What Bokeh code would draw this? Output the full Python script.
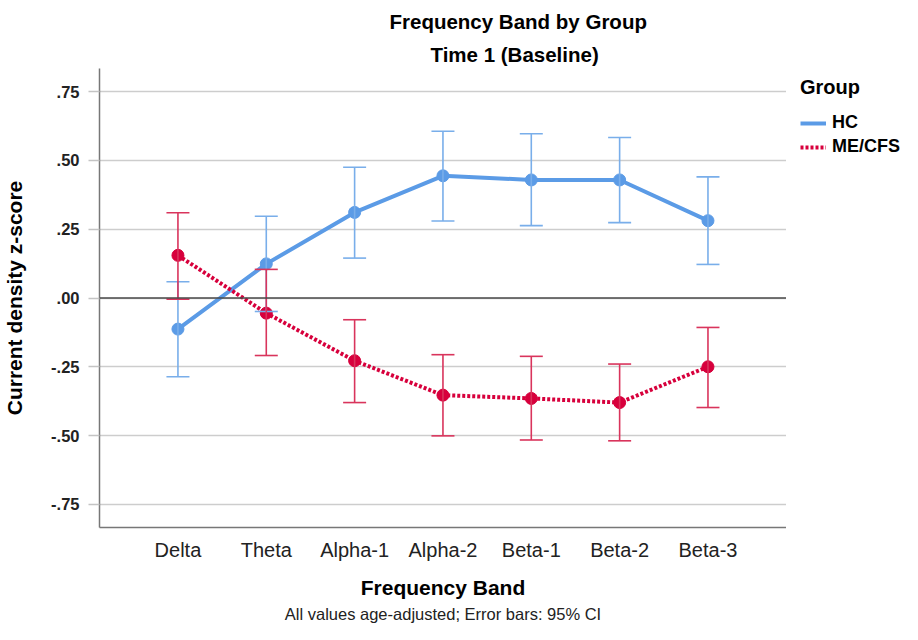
from bokeh.plotting import figure
from bokeh.layouts import row
from bokeh.models import (ColumnDataSource, FixedTicker, Whisker, TeeHead, Title,
                          Legend, LegendItem, Span, Range1d)
from bokeh.embed import file_html
from bokeh.resources import INLINE

# ---- data ----
bands = ["Delta", "Theta", "Alpha-1", "Alpha-2", "Beta-1", "Beta-2", "Beta-3"]
hc_mean = [-0.113, 0.124, 0.311, 0.444, 0.429, 0.429, 0.281]
hc_lower = [-0.286, -0.049, 0.145, 0.280, 0.263, 0.274, 0.122]
hc_upper = [0.059, 0.297, 0.475, 0.606, 0.597, 0.583, 0.440]
me_mean = [0.155, -0.055, -0.228, -0.353, -0.365, -0.380, -0.250]
me_lower = [-0.004, -0.209, -0.380, -0.501, -0.516, -0.519, -0.398]
me_upper = [0.310, 0.104, -0.079, -0.206, -0.212, -0.240, -0.107]
y_ticks = [-0.75, -0.5, -0.25, 0.0, 0.25, 0.5, 0.75]
y_tick_labels = ["-.75", "-.50", "-.25", ".00", ".25", ".50", ".75"]
series_names = ["HC", "ME/CFS"]

FONT = "Liberation Sans"
HC_COL = "#5b9be6"
HC_ERR = "#79aeea"
ME_COL = "#d7003c"
ME_ERR = "#d9345c"

xs = list(range(len(bands)))
hc_src = ColumnDataSource(dict(x=xs, y=hc_mean, lo=hc_lower, hi=hc_upper))
me_src = ColumnDataSource(dict(x=xs, y=me_mean, lo=me_lower, hi=me_upper))

p = figure(width=786, height=624, output_backend="svg", toolbar_location=None,
           x_range=(-0.888, 6.889), y_range=(-0.834, 0.834),
           min_border_left=99, min_border_right=0, min_border_top=68,
           min_border_bottom=97)
p.outline_line_color = None
p.background_fill_color = "white"
p.border_fill_color = "white"

# axes
p.xaxis.ticker = FixedTicker(ticks=xs)
p.xaxis.major_label_overrides = {i: b for i, b in enumerate(bands)}
p.xaxis.major_tick_line_color = None
p.xaxis.minor_tick_line_color = None
p.xaxis.major_label_text_font = FONT
p.xaxis.major_label_text_font_size = "20px"
p.xaxis.major_label_text_color = "#222222"
p.xaxis.major_label_standoff = 5
p.xaxis.axis_label = "Frequency Band"
p.xaxis.axis_label_text_font = FONT
p.xaxis.axis_label_text_font_size = "21px"
p.xaxis.axis_label_text_font_style = "bold"
p.xaxis.axis_label_text_color = "black"
p.xaxis.axis_label_standoff = 12
p.xaxis.axis_line_color = "#777777"
p.xaxis.axis_line_width = 1.5

p.yaxis.ticker = FixedTicker(ticks=y_ticks)
p.yaxis.major_label_overrides = {t: l for t, l in zip(y_ticks, y_tick_labels)}
p.yaxis.major_tick_out = 11
p.yaxis.major_tick_in = 0
p.yaxis.major_tick_line_color = "#c4c4c4"
p.yaxis.major_tick_line_width = 1.5
p.yaxis.minor_tick_line_color = None
p.yaxis.major_label_text_font = FONT
p.yaxis.major_label_text_font_size = "16.5px"
p.yaxis.major_label_text_font_style = "bold"
p.yaxis.major_label_text_color = "#222222"
p.yaxis.major_label_standoff = 9
p.yaxis.axis_label = "Current density z-score"
p.yaxis.axis_label_text_font = FONT
p.yaxis.axis_label_text_font_size = "21px"
p.yaxis.axis_label_text_font_style = "bold"
p.yaxis.axis_label_text_color = "black"
p.yaxis.axis_label_standoff = 22
p.yaxis.axis_line_color = "#777777"
p.yaxis.axis_line_width = 1.5

p.xgrid.grid_line_color = None
p.ygrid.ticker = FixedTicker(ticks=y_ticks)
p.ygrid.grid_line_color = "#cdcdcd"
p.ygrid.grid_line_width = 1.5

p.add_layout(Span(location=0, dimension="width", line_color="#4a4a4a", line_width=1.5))

# HC
p.add_layout(Whisker(source=hc_src, base="x", upper="hi", lower="lo",
                     line_color=HC_ERR, line_width=1.6, level="glyph",
                     upper_head=TeeHead(size=23, line_color=HC_ERR, line_width=1.6),
                     lower_head=TeeHead(size=23, line_color=HC_ERR, line_width=1.6)))
p.line("x", "y", source=hc_src, line_color=HC_COL, line_width=4)
p.scatter("x", "y", source=hc_src, size=12, marker="circle",
          fill_color=HC_COL, line_color=HC_COL)

# ME/CFS
p.add_layout(Whisker(source=me_src, base="x", upper="hi", lower="lo",
                     line_color=ME_ERR, line_width=1.6, level="glyph",
                     upper_head=TeeHead(size=23, line_color=ME_ERR, line_width=1.6),
                     lower_head=TeeHead(size=23, line_color=ME_ERR, line_width=1.6)))
p.line("x", "y", source=me_src, line_color=ME_COL, line_width=4, line_dash="3 2")
p.scatter("x", "y", source=me_src, size=12, marker="circle",
          fill_color=ME_COL, line_color=ME_COL)

# titles (inner first, outer last)
p.add_layout(Title(text="Time 1 (Baseline)", align="left", offset=331, standoff=6,
                   text_font=FONT, text_font_size="20.5px", text_font_style="bold",
                   text_color="black"), "above")
p.add_layout(Title(text="Frequency Band by Group", align="left", offset=290,
                   standoff=10, text_font=FONT, text_font_size="20.5px",
                   text_font_style="bold", text_color="black"), "above")
p.add_layout(Title(text="All values age-adjusted; Error bars: 95% CI", align="center",
                   standoff=3, text_font=FONT, text_font_size="16.5px",
                   text_font_style="normal", text_color="#222222"), "below")

# legend panel (separate small figure to the right); its key lines use the
# series data but sit outside this panel's visible range, so only the keys show
lg = figure(width=116, height=624, output_backend="svg", toolbar_location=None,
            x_axis_location=None, y_axis_location=None,
            x_range=Range1d(100, 101), y_range=Range1d(100, 101),
            min_border_left=6, min_border_right=0, min_border_top=68,
            min_border_bottom=0)
lg.outline_line_color = None
lg.grid.visible = False
lg.background_fill_color = "white"
lg.border_fill_color = "white"
key_hc = lg.line("x", "y", source=hc_src, line_color=HC_COL, line_width=4)
key_me = lg.line("x", "y", source=me_src, line_color=ME_COL, line_width=4,
                 line_dash="3 2")
legend = Legend(items=[LegendItem(label=series_names[0], renderers=[key_hc]),
                       LegendItem(label=series_names[1], renderers=[key_me])],
                location="top_left", orientation="vertical",
                title="Group", title_text_font=FONT, title_text_font_size="20px",
                title_text_font_style="bold", title_text_color="black",
                title_standoff=13,
                glyph_width=26, glyph_height=20, label_standoff=6, spacing=3,
                padding=0, margin=8, border_line_color=None,
                background_fill_alpha=0,
                label_text_font=FONT, label_text_font_size="18px",
                label_text_font_style="bold", label_text_color="black")
lg.add_layout(legend, "center")

layout = row(p, lg, spacing=0)
open("out.html", "w").write(file_html(layout, INLINE))
